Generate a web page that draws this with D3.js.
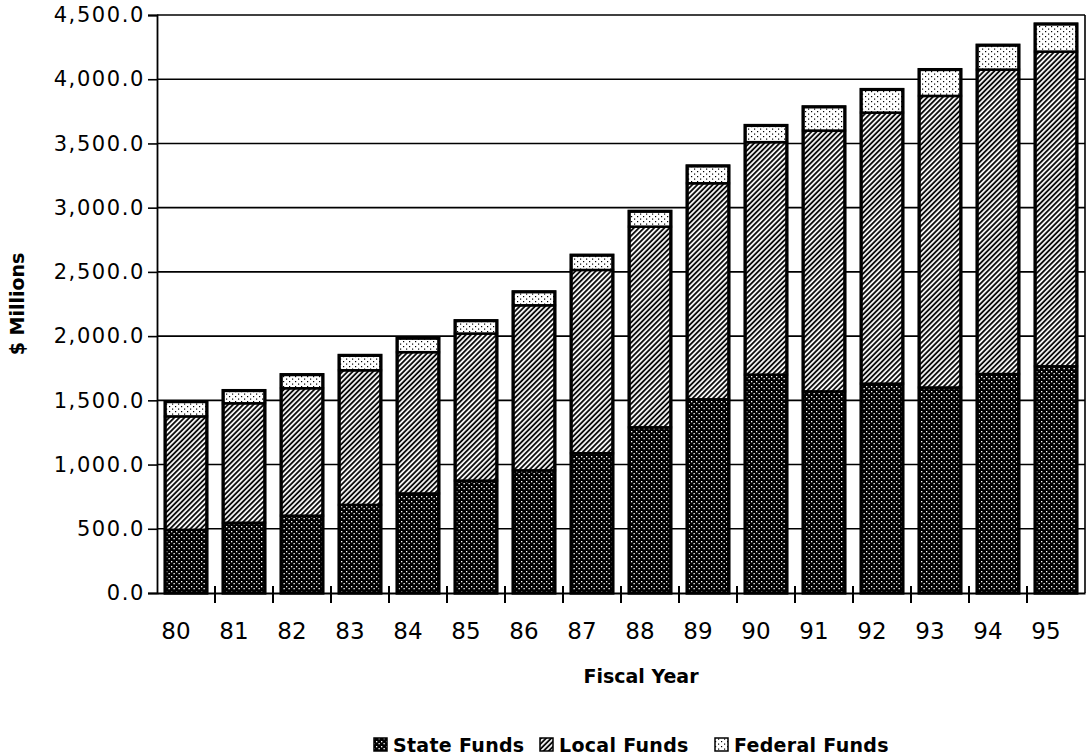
<!DOCTYPE html>
<html><head><meta charset="utf-8">
<script src="https://cdn.jsdelivr.net/npm/d3@7"></script>
<style>html,body{margin:0;padding:0;background:#fff;}svg{display:block;}</style>
</head><body>
<svg id="chart" width="1090" height="756"></svg>
<script>
const years = ["80","81","82","83","84","85","86","87","88","89","90","91","92","93","94","95"];
const stateFunds   = [492,547,602,686,775,875,955,1088,1290,1508,1700,1570,1630,1600,1705,1765];
const localFunds   = [883,930,992,1048,1100,1145,1285,1427,1562,1682,1810,2030,2110,2270,2370,2450];
const federalFunds = [115,99,106,116,109,100,105,115,120,135,130,185,180,205,190,215];
const seriesNames = ["State Funds","Local Funds","Federal Funds"];
const yTicks = [0,500,1000,1500,2000,2500,3000,3500,4000,4500];

const svg = d3.select("#chart");
const L = 157, R = 1085, T = 15, B = 593;
const x = d3.scaleBand().domain(years).range([L, R]).paddingInner(0.28).paddingOuter(0.14);
const y = d3.scaleLinear().domain([0, 4500]).range([B, T]);

// patterns
const defs = svg.append("defs");
const pState = defs.append("pattern").attr("id","pState").attr("patternUnits","userSpaceOnUse").attr("width",5).attr("height",5);
pState.append("rect").attr("width",5).attr("height",5).attr("fill","#000");
pState.append("rect").attr("x",1).attr("y",1).attr("width",1.3).attr("height",1.3).attr("fill","#fff");
pState.append("rect").attr("x",3.5).attr("y",3).attr("width",1.3).attr("height",1.3).attr("fill","#fff");
const pLocal = defs.append("pattern").attr("id","pLocal").attr("patternUnits","userSpaceOnUse").attr("width",3.6).attr("height",3.6).attr("patternTransform","rotate(45)");
pLocal.append("rect").attr("width",3.6).attr("height",3.6).attr("fill","#fff");
pLocal.append("line").attr("x1",1).attr("y1",0).attr("x2",1).attr("y2",3.6).attr("stroke","#000").attr("stroke-width",1.8);
const pFed = defs.append("pattern").attr("id","pFed").attr("patternUnits","userSpaceOnUse").attr("width",6).attr("height",5);
pFed.append("rect").attr("width",6).attr("height",5).attr("fill","#fff");
pFed.append("rect").attr("x",1).attr("y",1).attr("width",1.2).attr("height",1.2).attr("fill","#000");
pFed.append("rect").attr("x",4).attr("y",3.5).attr("width",1.2).attr("height",1.2).attr("fill","#000");
const fills = ["url(#pState)","url(#pLocal)","url(#pFed)"];

// gridlines
svg.append("g").selectAll("line").data(yTicks.slice(1)).join("line")
  .attr("x1", L).attr("x2", R).attr("y1", d => y(d)).attr("y2", d => y(d))
  .attr("stroke","#000").attr("stroke-width",1.6);
// frame right
svg.append("line").attr("x1",R).attr("x2",R).attr("y1",y(4500)).attr("y2",y(0)).attr("stroke","#000").attr("stroke-width",1.6);

// stacked bars
const rows = years.map((yr,i) => ({year: yr, s: stateFunds[i], l: localFunds[i], f: federalFunds[i]}));
const stack = d3.stack().keys(["s","l","f"])(rows);
const gBars = svg.append("g");
stack.forEach((layer, k) => {
  gBars.append("g").selectAll("rect").data(layer).join("rect")
    .attr("x", d => x(d.data.year))
    .attr("width", x.bandwidth())
    .attr("y", d => y(d[1]))
    .attr("height", d => y(d[0]) - y(d[1]))
    .attr("fill", fills[k])
    .attr("stroke","#000").attr("stroke-width", 2.5);
});
// outer outline
gBars.append("g").selectAll("rect").data(stack[2]).join("rect")
  .attr("x", d => x(d.data.year)).attr("width", x.bandwidth())
  .attr("y", d => y(d[1])).attr("height", d => y(0) - y(d[1]))
  .attr("fill","none").attr("stroke","#000").attr("stroke-width",3.2);

// axes
const yAxis = d3.axisLeft(y).tickValues(yTicks).tickSize(9).tickPadding(3)
  .tickFormat(d => d3.format(",.1f")(d));
const gy = svg.append("g").attr("transform",`translate(${L},0)`).call(yAxis);
gy.select(".domain").attr("stroke","#000").attr("stroke-width",1.8);
gy.selectAll(".tick line").attr("stroke","#000").attr("stroke-width",1.6);
gy.selectAll(".tick text").attr("font-family","DejaVu Sans").attr("font-size",21)
  .attr("letter-spacing","1.6px").attr("fill","#000");

const xAxis = d3.axisBottom(x).tickSize(0).tickPadding(30);
const gx = svg.append("g").attr("transform",`translate(0,${B})`).call(xAxis);
gx.select(".domain").attr("stroke","#000").attr("stroke-width",1.8);
gx.selectAll(".tick text").attr("font-family","DejaVu Sans").attr("font-size",23)
  .attr("dx",-10).attr("fill","#000");
// boundary ticks
const bounds = years.map(yr => x(yr) - x.step()*x.paddingInner()/2).slice(1);
gx.append("g").selectAll("line").data(bounds).join("line")
  .attr("x1", d => d).attr("x2", d => d).attr("y1",-7).attr("y2",10)
  .attr("stroke","#000").attr("stroke-width",2);

// axis titles
svg.append("text").attr("transform",`translate(24,${(T+B)/2}) rotate(-90)`)
  .attr("text-anchor","middle").attr("font-family","DejaVu Sans").attr("font-weight","bold")
  .attr("font-size",19).text("$ Millions");
svg.append("text").attr("x",641).attr("y",683).attr("text-anchor","middle")
  .attr("font-family","DejaVu Sans").attr("font-weight","bold").attr("font-size",19).text("Fiscal Year");

// legend
const legX = [374, 540, 715];
const leg = svg.append("g");
seriesNames.forEach((nm, k) => {
  leg.append("rect").attr("x", legX[k]).attr("y", 738).attr("width",13).attr("height",13)
    .attr("fill", fills[k]).attr("stroke","#000").attr("stroke-width",1.5);
  leg.append("text").attr("x", legX[k] + 19).attr("y", 752)
    .attr("font-family","DejaVu Sans").attr("font-weight","bold").attr("font-size",19)
    .attr("letter-spacing","0.3px").text(nm);
});
</script>
</body></html>
